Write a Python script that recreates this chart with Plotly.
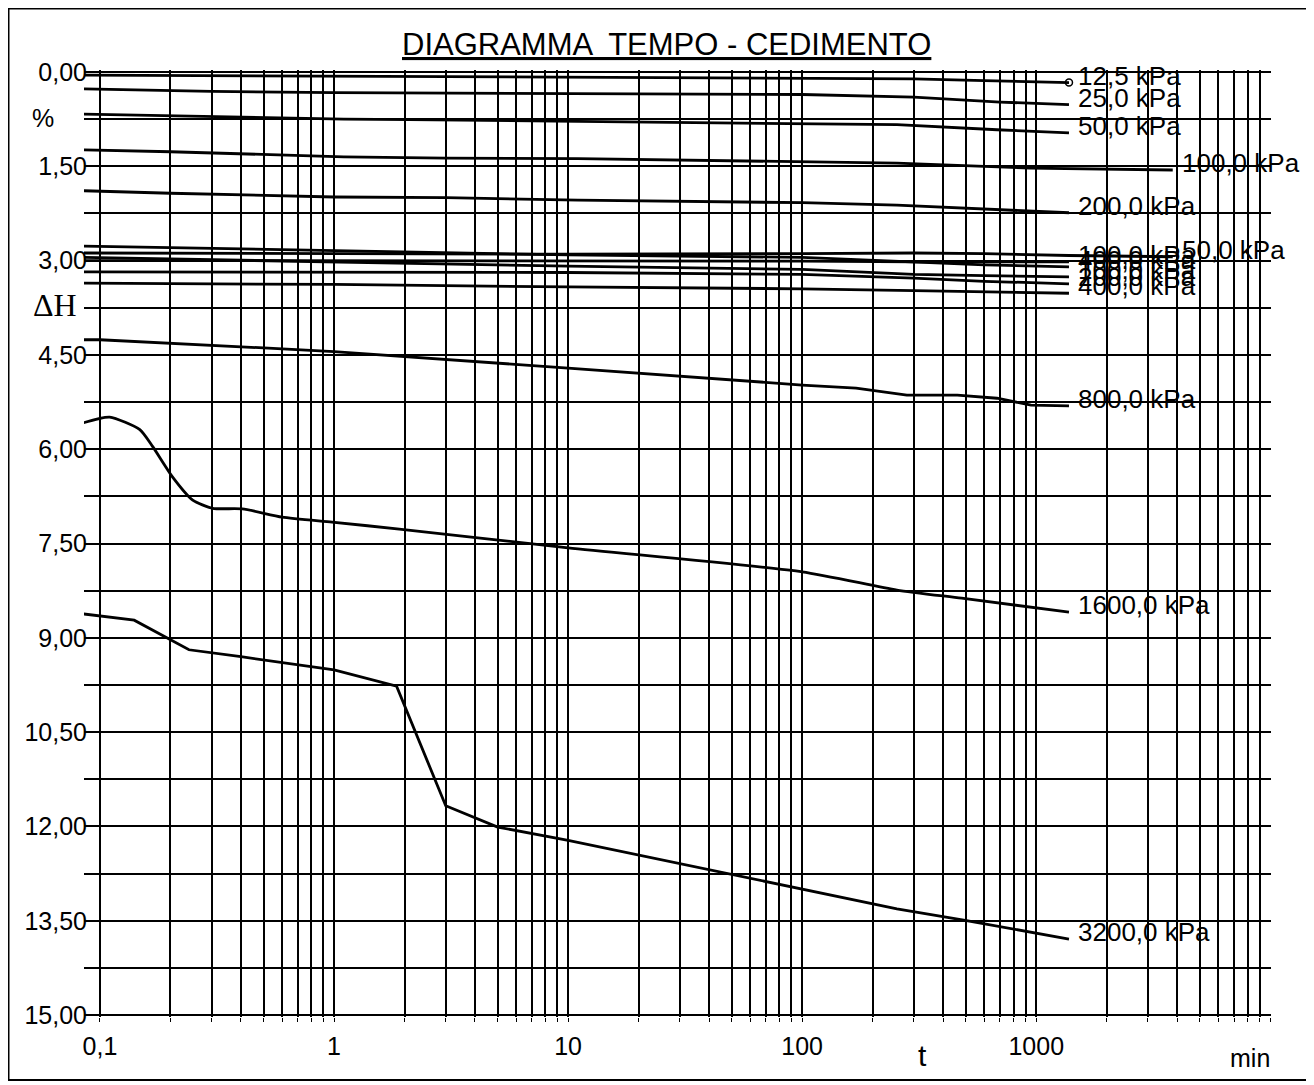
import numpy as np
import plotly.graph_objects as go

# ---------------- data ----------------
T_12_5 = [0.085, 1, 10, 100, 300, 600, 1380]
V_12_5 = [0.05, 0.07, 0.09, 0.10, 0.11, 0.14, 0.17]

T_25 = [0.085, 0.3, 1, 10, 100, 300, 700, 1380]
V_25 = [0.27, 0.31, 0.33, 0.35, 0.36, 0.40, 0.48, 0.52]

T_50 = [0.085, 0.2, 1.1, 2.1, 11, 254, 680, 1380]
V_50 = [0.67, 0.70, 0.75, 0.76, 0.79, 0.84, 0.92, 0.97]

T_100 = [0.085, 0.2, 1.1, 3.0, 11, 100, 254, 940, 3830]
V_100 = [1.24, 1.27, 1.35, 1.37, 1.38, 1.43, 1.45, 1.53, 1.56]

T_200 = [0.085, 0.2, 1.0, 3.0, 11, 100, 254, 940, 1380]
V_200 = [1.89, 1.93, 1.99, 2.00, 2.04, 2.08, 2.12, 2.22, 2.24]

T_CLUSTER = [0.085, 1, 10, 100, 300, 600, 1380]
V_400_LOAD = [2.77, 2.84, 2.91, 2.95, 3.02, 3.07, 3.10]
V_100_UNLOAD = [3.00, 3.00, 3.01, 3.01, 3.02, 3.02, 3.02]
V_100_RELOAD = [2.95, 3.02, 3.09, 3.14, 3.22, 3.24, 3.26]
V_200_RELOAD = [3.18, 3.18, 3.19, 3.22, 3.28, 3.33, 3.37]
V_400_RELOAD = [3.36, 3.38, 3.42, 3.45, 3.48, 3.50, 3.52]

T_50_UNLOAD = [0.085, 1, 10, 100, 300, 600, 1380, 3830]
V_50_UNLOAD = [2.88, 2.89, 2.90, 2.89, 2.88, 2.89, 2.92, 2.94]

T_800 = [0.085, 0.1, 0.5, 1, 10, 100, 170, 280, 460, 680, 950, 1380]
V_800 = [4.26, 4.26, 4.39, 4.45, 4.71, 4.98, 5.03, 5.14, 5.14, 5.19, 5.30, 5.31]

T_1600 = [0.085, 0.11, 0.148, 0.168, 0.204, 0.249, 0.303, 0.406, 0.6, 0.98, 1.9, 10, 100, 254, 480, 1380]
V_1600 = [5.58, 5.49, 5.69, 5.96, 6.44, 6.81, 6.94, 6.95, 7.08, 7.16, 7.27, 7.57, 7.95, 8.24, 8.37, 8.59]

T_3200 = [0.085, 0.14, 0.24, 0.4, 1, 1.85, 3.0, 5, 10, 100, 254, 490, 1380]
V_3200 = [8.62, 8.72, 9.19, 9.30, 9.51, 9.77, 11.67, 12.01, 12.22, 13.00, 13.31, 13.49, 13.79]

SERIES_LABELS = ["12,5 kPa", "25,0 kPa", "50,0 kPa", "100,0 kPa", "200,0 kPa",
                 "400,0 kPa", "100,0 kPa", "50,0 kPa", "100,0 kPa", "200,0 kPa", "400,0 kPa",
                 "800,0 kPa", "1600,0 kPa", "3200,0 kPa"]

X_DECADES = [0.1, 1, 10, 100, 1000, 10000]
X_DECADE_LABELS = ["0,1", "1", "10", "100", "1000", ""]
Y_MAJOR = [0, 1.5, 3, 4.5, 6, 7.5, 9, 10.5, 12, 13.5, 15]
Y_MAJOR_LABELS = ["0,00", "1,50", "3,00", "4,50", "6,00", "7,50", "9,00",
                  "10,50", "12,00", "13,50", "15,00"]
Y_MINOR = [0.75, 2.25, 3.75, 5.25, 6.75, 8.25, 9.75, 11.25, 12.75, 14.25]

TITLE = "DIAGRAMMA  TEMPO - CEDIMENTO"

# ---------------- build ----------------
series = [
    (T_12_5, V_12_5), (T_25, V_25), (T_50, V_50), (T_100, V_100), (T_200, V_200),
    (T_CLUSTER, V_400_LOAD), (T_CLUSTER, V_100_UNLOAD), (T_50_UNLOAD, V_50_UNLOAD),
    (T_CLUSTER, V_100_RELOAD), (T_CLUSTER, V_200_RELOAD), (T_CLUSTER, V_400_RELOAD),
    (T_800, V_800), (T_1600, V_1600), (T_3200, V_3200),
]

FONT = "Liberation Sans, Arial, sans-serif"
OFF = 8  # page body margin
W, H = 1314 - OFF, 1085 - OFF
PLOT_L, PLOT_R_PX = 84 - OFF, 1271 - OFF
PLOT_T, PLOT_B_PX = 70 - OFF, 1017 - OFF
X_RANGE = [-1.0683, 4.003]
Y_RANGE = [15.03, -0.03]

fig = go.Figure()
for (t, v), lab in zip(series, SERIES_LABELS):
    shape = "spline" if lab == "1600,0 kPa" else "linear"
    fig.add_trace(go.Scatter(
        x=t, y=v, mode="lines", name=lab,
        line=dict(color="black", width=2.8, shape=shape, smoothing=0.6),
        showlegend=False, hoverinfo="skip"))
    fig.add_annotation(
        x=np.log10(t[-1]), y=v[-1], xref="x", yref="y",
        text=lab, showarrow=False, xanchor="left", yanchor="middle",
        xshift=7, yshift=7, font=dict(family=FONT, size=26, color="black"))

# small open circle at the end of the first curve
fig.add_trace(go.Scatter(
    x=[T_12_5[-1]], y=[V_12_5[-1]], mode="markers",
    marker=dict(symbol="circle-open", size=7, color="black", line=dict(width=1.5)),
    showlegend=False, hoverinfo="skip"))

x_tickvals, x_ticktext = [], []
for d, lab in zip(X_DECADES, X_DECADE_LABELS):
    x_tickvals.append(d)
    x_ticktext.append(lab)
    if d < 10000:
        for k in range(2, 10):
            x_tickvals.append(d * k)
            x_ticktext.append("")

y_tickvals = Y_MAJOR + Y_MINOR
y_ticktext = Y_MAJOR_LABELS + [""] * len(Y_MINOR)

fig.update_layout(
    width=W, height=H, autosize=False,
    margin=dict(l=PLOT_L, r=W - PLOT_R_PX, t=PLOT_T, b=H - PLOT_B_PX, pad=0),
    paper_bgcolor="white", plot_bgcolor="white",
    font=dict(family=FONT, color="black"),
    xaxis=dict(type="log", range=X_RANGE, tickvals=x_tickvals, ticktext=x_ticktext,
               showgrid=True, gridcolor="black", gridwidth=1.8,
               ticks="outside", ticklen=4, tickcolor="black",
               tickfont=dict(family=FONT, size=25, color="black"),
               ticklabelstandoff=3, zeroline=False, showline=False),
    yaxis=dict(range=Y_RANGE, tickvals=y_tickvals, ticktext=y_ticktext,
               showgrid=True, gridcolor="black", gridwidth=1.8,
               ticks="", tickfont=dict(family=FONT, size=25, color="black"),
               ticklabelstandoff=-4, zeroline=False, showline=False),
)

pw = PLOT_R_PX - PLOT_L
ph = PLOT_B_PX - PLOT_T


def px_x(px):
    """screen pixel -> paper x"""
    return (px - OFF - PLOT_L) / pw


def px_y(py):
    """screen pixel -> paper y"""
    return (PLOT_B_PX - (py - OFF)) / ph


# outer frame
fig.add_shape(type="rect", xref="paper", yref="paper",
              x0=px_x(8.5), x1=px_x(1311), y0=px_y(1080), y1=px_y(8.5),
              line=dict(color="black", width=2), fillcolor="rgba(0,0,0,0)", layer="above")

# title
fig.add_annotation(xref="paper", yref="paper", x=px_x(666), y=px_y(45),
                   text="<u>" + TITLE + "</u>", showarrow=False,
                   xanchor="center", yanchor="middle",
                   font=dict(family=FONT, size=31, color="black"))
# axis captions
fig.add_annotation(xref="paper", yref="paper", x=px_x(43), y=px_y(118), text="%",
                   showarrow=False, xanchor="center", yanchor="middle",
                   font=dict(family=FONT, size=25, color="black"))
fig.add_annotation(xref="paper", yref="paper", x=px_x(55), y=px_y(305), text="ΔH",
                   showarrow=False, xanchor="center", yanchor="middle",
                   font=dict(family="Liberation Serif, Times New Roman, serif", size=32, color="black"))
fig.add_annotation(xref="paper", yref="paper", x=px_x(922), y=px_y(1055), text="t",
                   showarrow=False, xanchor="center", yanchor="middle",
                   font=dict(family=FONT, size=30, color="black"))
fig.add_annotation(xref="paper", yref="paper", x=px_x(1250), y=px_y(1058), text="min",
                   showarrow=False, xanchor="center", yanchor="middle",
                   font=dict(family=FONT, size=25, color="black"))

fig.write_html("out.html")
